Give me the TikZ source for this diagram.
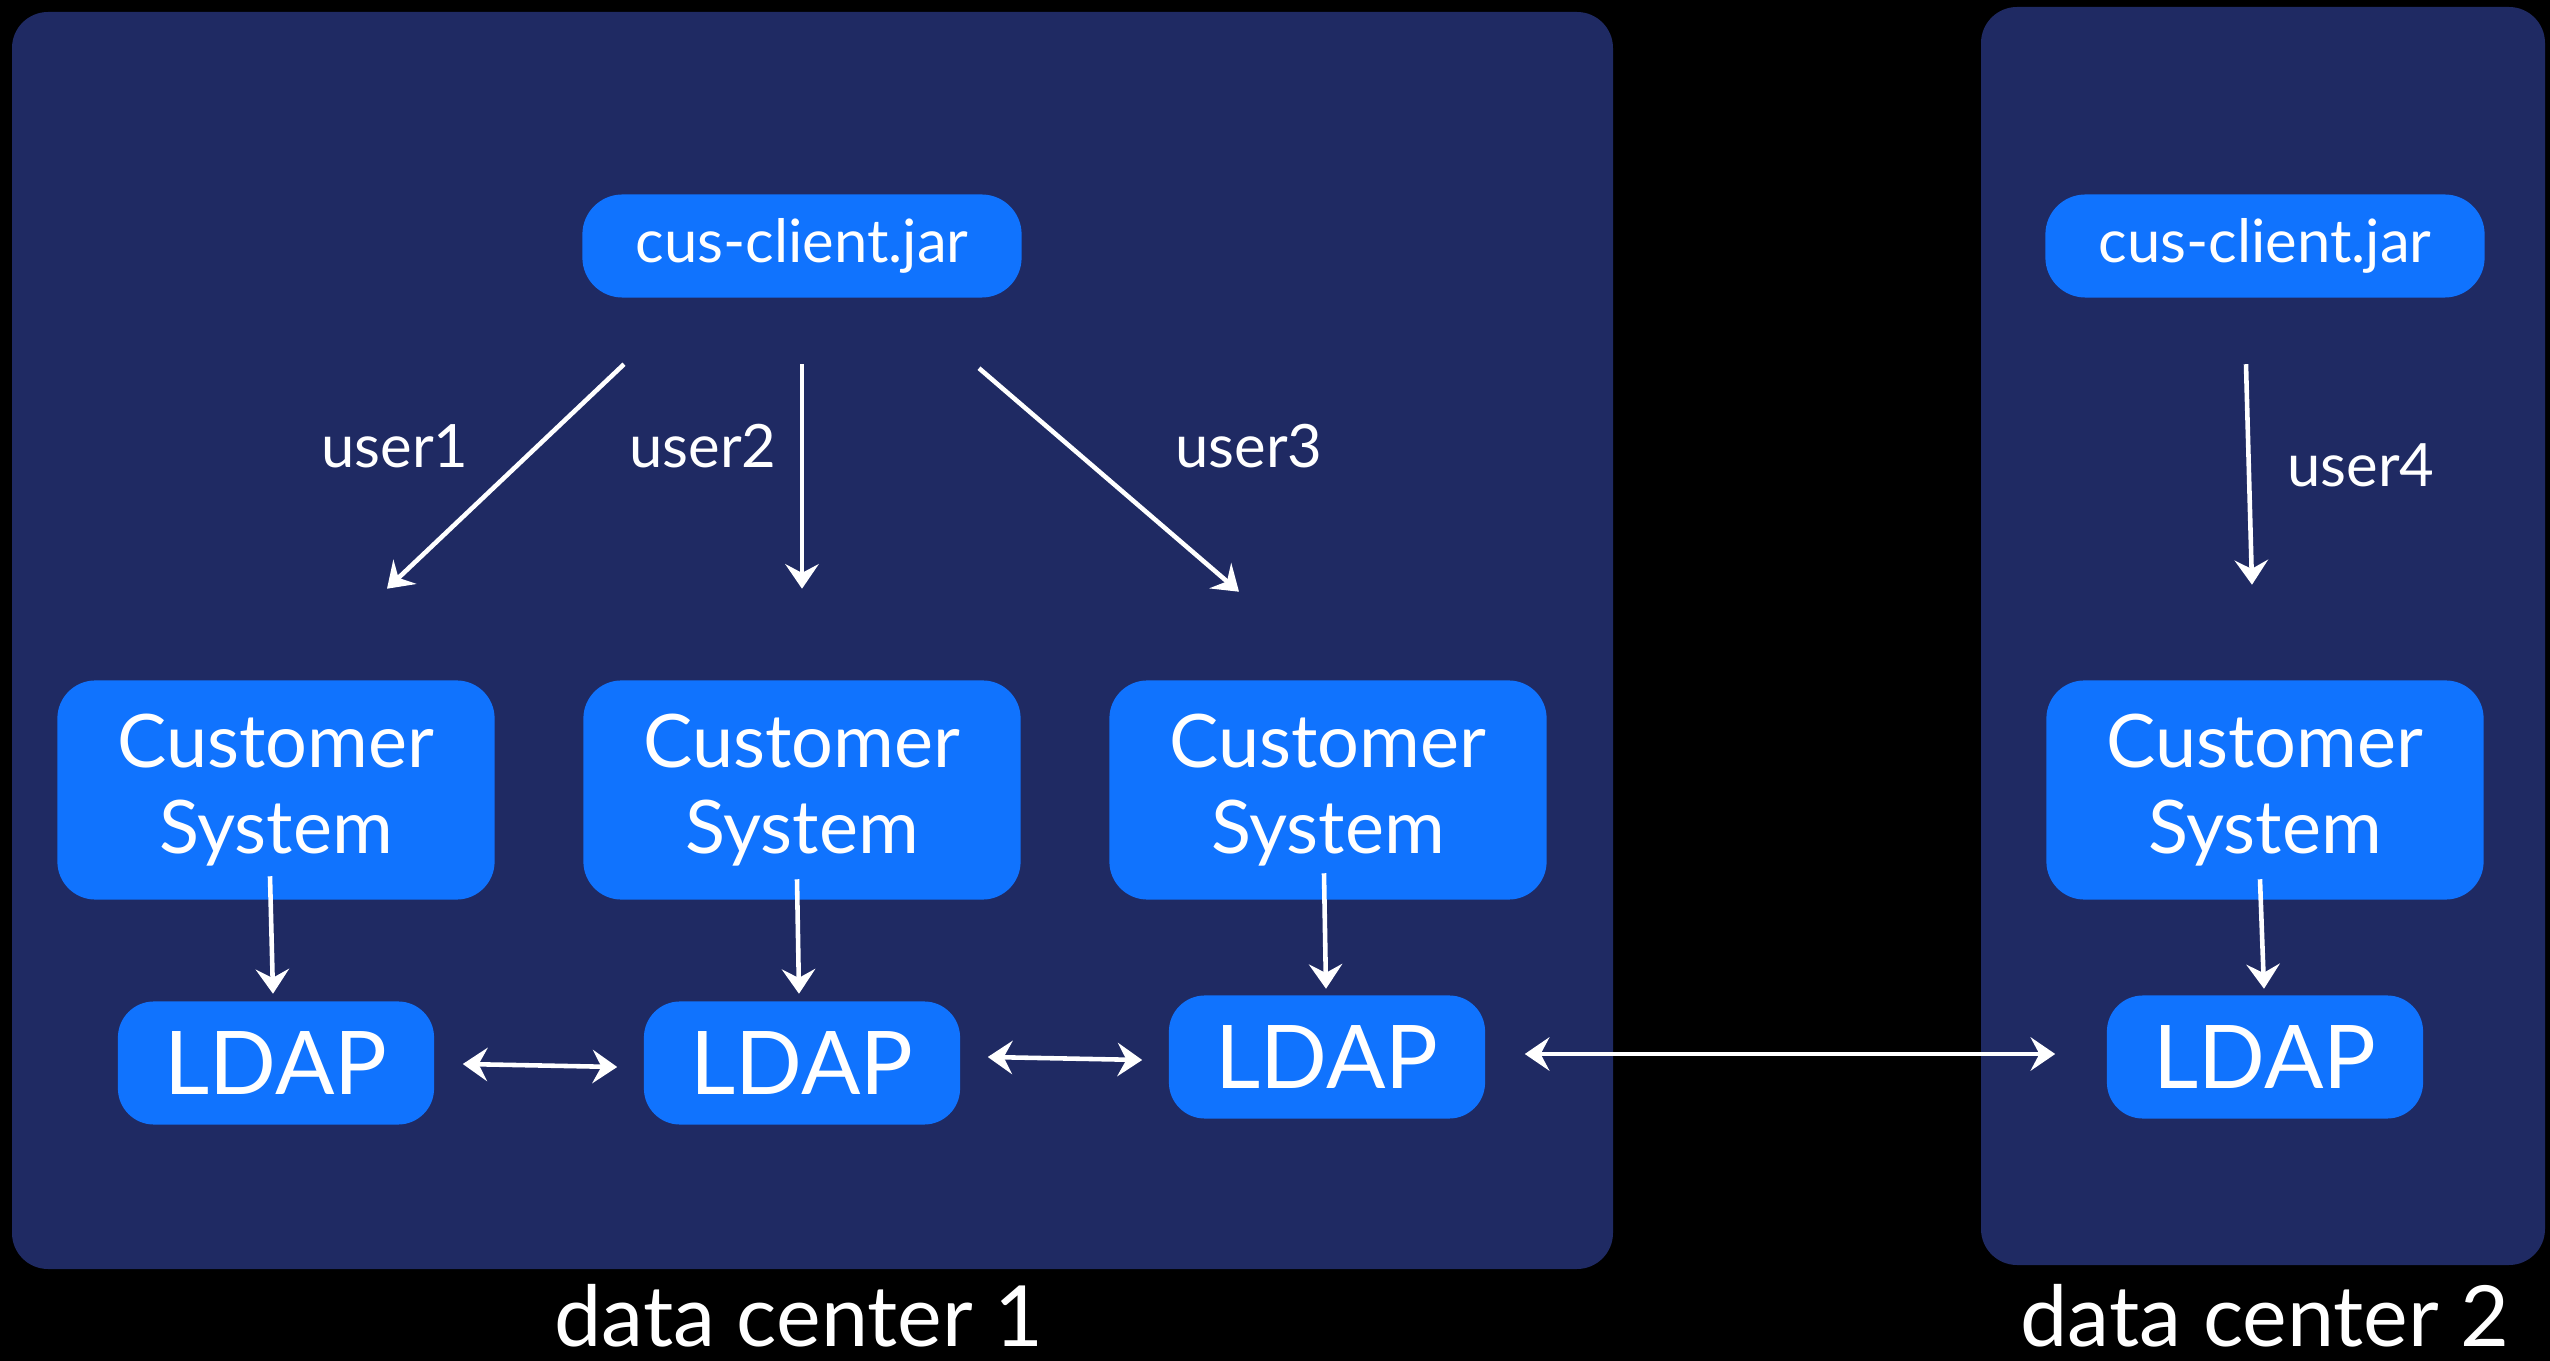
\documentclass[tikz,border=0pt]{standalone}
\usepackage{fontspec}
\setmainfont{Lato}
\usetikzlibrary{arrows.meta}

\definecolor{panelblue}{RGB}{31,42,99}
\definecolor{boxblue}{RGB}{16,115,254}

\tikzset{
  panel/.style={fill=panelblue,rounded corners=0.36cm},
  jarbox/.style={fill=boxblue,text=white,rounded corners=0.4cm,inner sep=0pt,
    minimum width=4.39cm,minimum height=1.03cm,font=\fontsize{17}{20}\selectfont},
  custbox/.style={fill=boxblue,text=white,rounded corners=0.38cm,inner sep=0pt,align=center,
    minimum width=4.37cm,minimum height=2.19cm,font=\fontsize{21}{24.5}\selectfont},
  ldapbox/.style={fill=boxblue,text=white,rounded corners=0.36cm,inner sep=0pt,
    minimum width=3.16cm,minimum height=1.23cm,font=\fontsize{25}{30}\selectfont},
  userlbl/.style={text=white,font=\fontsize{17}{20}\selectfont},
  dclbl/.style={text=white,anchor=base,inner sep=0pt,font=\fontsize{24}{30}\selectfont},
  arr/.style={white,line width=1.3pt,-{Stealth[length=7pt,width=9.5pt,inset=2.5pt]}},
  biarr/.style={white,line width=1.3pt,{Stealth[length=7pt,width=9.5pt,inset=2.5pt]}-{Stealth[length=7pt,width=9.5pt,inset=2.5pt]}}
}

\begin{document}
\begin{tikzpicture}[x=0.01cm,y=-0.01cm]
\useasboundingbox (0,0) rectangle (2550,1361);
\fill[black] (0,0) rectangle (2550,1361);

% the two data centers
\fill[panel] (12,12) rectangle (1613,1269);
\fill[panel] (1981,7) rectangle (2545,1265);
\node[dclbl] (dc1) at (799,1346) {data center 1};
\node[dclbl] (dc2) at (2265,1346) {data center 2};

% clients
\node[jarbox] (cj1) at (802,246) {cus-client.jar};
\node[jarbox] (cj2) at (2265,246) {cus-client.jar};

% customer systems
\node[custbox] (cs1) at (276,790) {Customer\\System};
\node[custbox] (cs2) at (802,790) {Customer\\System};
\node[custbox] (cs3) at (1328,790) {Customer\\System};
\node[custbox] (cs4) at (2265,790) {Customer\\System};

% ldap
\node[ldapbox] (ldap1) at (276,1063) {LDAP};
\node[ldapbox] (ldap2) at (802,1063) {LDAP};
\node[ldapbox] (ldap3) at (1327,1057) {LDAP};
\node[ldapbox] (ldap4) at (2265,1057) {LDAP};

% users
\draw[arr] ([shift={(-178,66)}]cj1.south) -- ([shift={(111,-91)}]cs1.north);
\draw[arr] ([shift={(0,66)}]cj1.south) -- ([shift={(0,-91)}]cs2.north);
\draw[arr] ([shift={(177,70)}]cj1.south) -- ([shift={(-89,-88)}]cs3.north);
\draw[arr] ([shift={(-19,66)}]cj2.south) -- ([shift={(-13,-95)}]cs4.north);
\node[userlbl] (u1) at (395,446) {user1};
\node[userlbl] (u2) at (703,446) {user2};
\node[userlbl] (u3) at (1249,446) {user3};
\node[userlbl] (u4) at (2361,465) {user4};

% customer system -> ldap
\draw[arr] ([shift={(-6,-24)}]cs1.south) -- ([shift={(-3,-7)}]ldap1.north);
\draw[arr] ([shift={(-5,-21)}]cs2.south) -- ([shift={(-3,-7)}]ldap2.north);
\draw[arr] ([shift={(-4,-27)}]cs3.south) -- ([shift={(-1,-6)}]ldap3.north);
\draw[arr] ([shift={(-5,-21)}]cs4.south) -- ([shift={(-1,-6)}]ldap4.north);

% replication
\draw[biarr] ([shift={(28,1)}]ldap1.east) -- ([shift={(-26,4)}]ldap2.west);
\draw[biarr] ([shift={(27,-6)}]ldap2.east) -- ([shift={(-26,3)}]ldap3.west);
\draw[biarr] ([shift={(39,-3)}]ldap3.east) -- ([shift={(-51,-3)}]ldap4.west);
\end{tikzpicture}
\end{document}
